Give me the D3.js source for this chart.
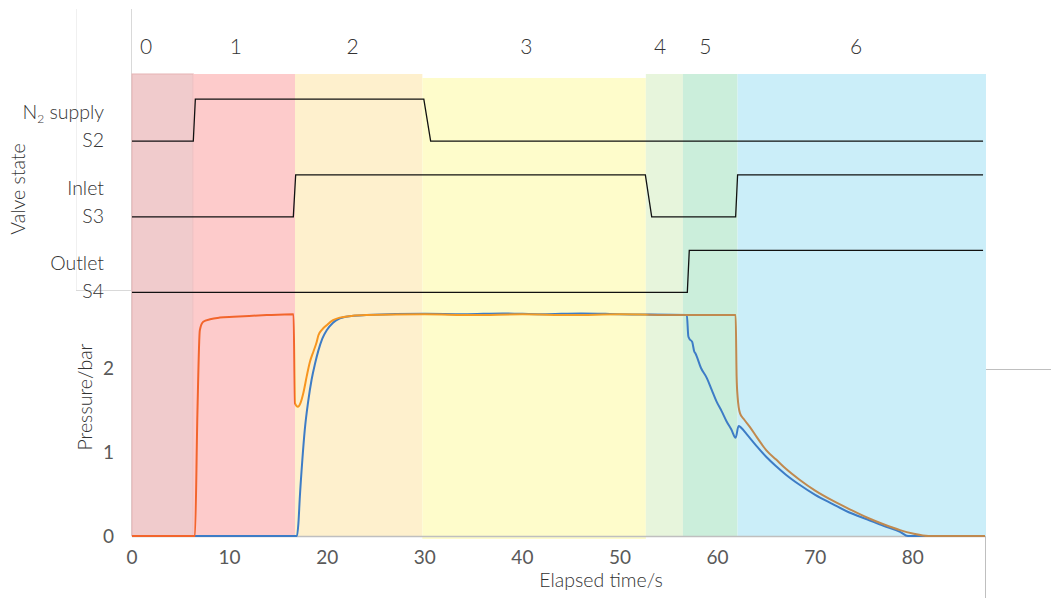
<!DOCTYPE html>
<html lang="en">
<head>
  <meta charset="UTF-8">
  <title>Valve state and pressure</title>
  <script src="https://d3js.org/d3.v7.min.js"></script>
  <style>
    body { margin: 0; background: #fff; }
    svg text { font-family: Lato, "Open Sans", sans-serif; }
    .tick-label { font-size: 19px; fill: #595959; }
    .title { font-size: 19.5px; fill: #333; font-weight: 300; }
    .phase { font-size: 21px; fill: #333; font-weight: 300; }
  </style>
</head>
<body>
  <div id="chart"></div>

  <script>
    // Phases (shaded bands), boundaries in seconds
    const phaseNames = ["0", "1", "2", "3", "4", "5", "6"];
    const phaseStart = [0, 6.28, 16.7, 29.75, 52.65, 56.45, 62.05];
    const phaseEnd = [6.28, 16.7, 29.75, 52.65, 56.45, 62.05, 87.5];
    const phaseColors = ["#f0cbcc", "#fdcbcb", "#fef0cd", "#fefccb", "#e7f5dc", "#cbeedb", "#cbeef9"];
    const phaseLabelTime = [1.45, 10.65, 22.6, 40.4, 54.1, 58.75, 74.2];

    // Valve states (0 = closed, 1 = open)
    const valveNames = ["N2 supply", "Inlet", "Outlet"];
    const valveIds = ["S2", "S3", "S4"];
    const valveBase = [4.7, 3.8, 2.9];
    const s2Times = [0, 6.28, 6.49, 29.9, 30.6, 87.2];
    const s2States = [0, 0, 1, 1, 0, 0];
    const s3Times = [0, 16.53, 16.77, 52.6, 53.25, 61.85, 62.05, 87.2];
    const s3States = [0, 0, 1, 1, 0, 0, 1, 1];
    const s4Times = [0, 56.9, 57.1, 87.2];
    const s4States = [0, 0, 1, 1];

    // Upstream pressure (orange)
    const upTime = [0, 6.45, 6.7, 6.95, 7.3, 8, 9, 10.4, 12, 13.8, 16.55, 16.7, 17.0, 17.25, 17.55, 17.9,
      18.2, 18.6, 18.9, 19.1, 19.5, 19.95, 20.6, 21.3, 22.5, 24, 30, 35, 40, 45, 50, 56, 61.85,
      61.95, 62.05, 62.3, 62.7, 63.3, 64, 65, 66, 67, 68.4, 70, 71.8, 73.5, 75.3, 77, 78.7, 80, 81.6, 87.4];
    const upP = [0, 0, 1.45, 2.45, 2.55, 2.58, 2.6, 2.61, 2.62, 2.63, 2.64, 1.58, 1.54, 1.58, 1.7, 1.9,
      2.06, 2.2, 2.3, 2.39, 2.46, 2.51, 2.57, 2.6, 2.62, 2.63, 2.64, 2.63, 2.64, 2.63, 2.64, 2.63, 2.63,
      1.9, 1.66, 1.46, 1.39, 1.3, 1.18, 1.02, 0.91, 0.8, 0.67, 0.54, 0.42, 0.32, 0.22, 0.14, 0.07, 0.03, 0, 0];

    // Downstream pressure (blue)
    const downTime = [0, 16.9, 17.05, 17.2, 17.45, 17.7, 18.05, 18.4, 18.75, 19.1, 19.5, 19.95, 20.6, 21.3,
      22.5, 24, 30, 34, 38, 42, 46, 50, 56.85, 57.0, 57.1, 57.4, 57.6, 57.75, 58.3, 58.9, 59.4, 59.9,
      60.4, 60.9, 61.4, 61.85, 62.15, 62.4, 63, 64, 65, 66, 67, 68.4, 70, 71.8, 73.5, 75.3, 77, 78.7, 79.5, 87.4];
    const downP = [0, 0, 0.15, 0.47, 0.9, 1.26, 1.6, 1.86, 2.05, 2.21, 2.35, 2.45, 2.54, 2.59,
      2.62, 2.63, 2.645, 2.64, 2.65, 2.64, 2.65, 2.64, 2.63, 2.38, 2.35, 2.31, 2.2, 2.17, 2.0, 1.88, 1.74, 1.6,
      1.49, 1.37, 1.27, 1.17, 1.31, 1.29, 1.21, 1.07, 0.94, 0.83, 0.73, 0.61, 0.49, 0.38, 0.28, 0.2, 0.12, 0.05, 0, 0];

    const yTicks = [0, 1, 2];
    const xTicks = [0, 10, 20, 30, 40, 50, 60, 70, 80];

    const width = 1051;
    const height = 598;

    const x = d3.scaleLinear().domain([0, 87.4]).range([132, 985]);
    const y = d3.scaleLinear().domain([0, 5.5]).range([536, 74]);

    const svg = d3.select("#chart")
      .append("svg")
      .attr("width", width)
      .attr("height", height);

    // frame lines left over from the composite figure
    const frame = svg.append("g").attr("fill", "none");
    frame.append("line").attr("x1", 76.5).attr("x2", 76.5).attr("y1", 9).attr("y2", 290).attr("stroke", "#f0f0f0");
    frame.append("line").attr("x1", 76).attr("x2", 132).attr("y1", 290.5).attr("y2", 290.5).attr("stroke", "#d9d9d9");
    frame.append("line").attr("x1", 131.5).attr("x2", 131.5).attr("y1", 9).attr("y2", 536).attr("stroke", "#d9d9d9");
    frame.append("line").attr("x1", 985.5).attr("x2", 985.5).attr("y1", 369).attr("y2", 598).attr("stroke", "#bfbfbf");
    frame.append("line").attr("x1", 985).attr("x2", 1051).attr("y1", 369.5).attr("y2", 369.5).attr("stroke", "#bfbfbf");

    // Phase bands
    svg.append("g")
      .selectAll("rect")
      .data(phaseNames)
      .enter()
      .append("rect")
      .attr("x", (d, i) => x(phaseStart[i]))
      .attr("y", (d, i) => i === 3 ? y(5.5) + 4 : y(5.5))
      .attr("width", (d, i) => x(phaseEnd[i]) - x(phaseStart[i]))
      .attr("height", (d, i) => i === 3 ? y(0) - y(5.5) - 1 : y(0) - y(5.5))
      .attr("fill", (d, i) => phaseColors[i])
      .attr("stroke", (d, i) => i === 0 ? "#e6b3b4" : "none")
      .attr("stroke-width", 1);

    svg.append("g")
      .selectAll("text")
      .data(phaseNames)
      .enter()
      .append("text")
      .attr("class", "phase")
      .attr("x", (d, i) => x(phaseLabelTime[i]))
      .attr("y", 54)
      .attr("text-anchor", "middle")
      .text(d => d);

    // x axis line and labels
    svg.append("line")
      .attr("x1", x(0)).attr("x2", x(87.4))
      .attr("y1", y(0) + 0.5).attr("y2", y(0) + 0.5)
      .attr("stroke", "#bfbfbf").attr("stroke-width", 1.5);

    svg.append("g")
      .selectAll("text")
      .data(xTicks)
      .enter()
      .append("text")
      .attr("class", "tick-label")
      .attr("x", d => x(d))
      .attr("y", 564)
      .attr("text-anchor", "middle")
      .text(d => d);

    svg.append("g")
      .selectAll("text")
      .data(yTicks)
      .enter()
      .append("text")
      .attr("class", "tick-label")
      .attr("x", 114)
      .attr("y", d => y(d) + 7)
      .attr("text-anchor", "end")
      .text(d => d);

    svg.append("text")
      .attr("class", "title")
      .attr("x", 601)
      .attr("y", 587)
      .attr("text-anchor", "middle")
      .text("Elapsed time/s");

    svg.append("text")
      .attr("class", "title")
      .attr("transform", "translate(92,397) rotate(-90)")
      .attr("text-anchor", "middle")
      .text("Pressure/bar");

    svg.append("text")
      .attr("class", "title")
      .attr("transform", "translate(25,189) rotate(-90)")
      .attr("text-anchor", "middle")
      .text("Valve state");

    // Valve labels
    valveIds.forEach((id, i) => {
      const base = y(valveBase[i]);
      const name = svg.append("text")
        .attr("class", "title")
        .attr("x", 104)
        .attr("y", base - 22)
        .attr("text-anchor", "end");
      if (i === 0) {
        name.append("tspan").text("N");
        name.append("tspan").attr("font-size", "12px").attr("dy", 4).text("2");
        name.append("tspan").attr("dy", -4).text(" supply");
      } else {
        name.text(valveNames[i]);
      }
      svg.append("text")
        .attr("class", "title")
        .attr("x", 104)
        .attr("y", base + 6)
        .attr("text-anchor", "end")
        .text(id);
    });

    // Valve step lines
    const valveTimes = [s2Times, s3Times, s4Times];
    const valveStates = [s2States, s3States, s4States];
    const line = d3.line().x(d => x(d[0])).y(d => y(d[1]));

    valveIds.forEach((id, i) => {
      const pts = valveTimes[i].map((t, j) => [t, valveBase[i] + valveStates[i][j] * 0.5]);
      svg.append("path")
        .datum(pts)
        .attr("d", line)
        .attr("fill", "none")
        .attr("stroke", "#111")
        .attr("stroke-width", 1.3);
    });

    // Pressure curves
    const defs = svg.append("defs");
    const grad = defs.append("linearGradient")
      .attr("id", "upGrad")
      .attr("gradientUnits", "userSpaceOnUse")
      .attr("x1", x(0)).attr("x2", x(87.4))
      .attr("y1", 0).attr("y2", 0);
    const stops = [[0, "#f2652c"], [16.65, "#f2652c"], [16.7, "#f7951f"], [52.6, "#f0a02a"], [53.0, "#c0894f"], [87.4, "#c0894f"]];
    stops.forEach(s => grad.append("stop").attr("offset", s[0] / 87.4).attr("stop-color", s[1]));

    const smooth = d3.line().x(d => x(d[0])).y(d => y(d[1])).curve(d3.curveMonotoneX);

    svg.append("path")
      .datum(downTime.map((t, i) => [t, downP[i]]))
      .attr("d", smooth)
      .attr("fill", "none")
      .attr("stroke", "#3d7cc6")
      .attr("stroke-width", 2);

    svg.append("path")
      .datum(upTime.map((t, i) => [t, upP[i]]))
      .attr("d", smooth)
      .attr("fill", "none")
      .attr("stroke", "url(#upGrad)")
      .attr("stroke-width", 2);
  </script>
</body>
</html>
